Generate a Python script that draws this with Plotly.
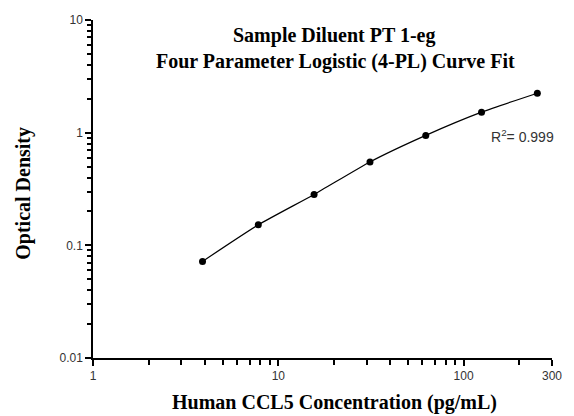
import numpy as np
import plotly.graph_objects as go

# Data
concentration = [3.9, 7.8, 15.6, 31.25, 62.5, 125, 250]
optical_density = [0.072, 0.152, 0.283, 0.55, 0.946, 1.52, 2.24]

x_major_ticks = [1, 10, 100, 300]
x_major_labels = ["1", "10", "100", "300"]
x_minor_ticks = [2, 3, 4, 5, 6, 7, 8, 9, 20, 30, 40, 50, 60, 70, 80, 90, 200]
y_major_ticks = [0.01, 0.1, 1, 10]
y_major_labels = ["0.01", "0.1", "1", "10"]
y_minor_ticks = [0.02, 0.03, 0.04, 0.05, 0.06, 0.07, 0.08, 0.09,
                 0.2, 0.3, 0.4, 0.5, 0.6, 0.7, 0.8, 0.9,
                 2, 3, 4, 5, 6, 7, 8, 9]

title_line1 = "Sample Diluent PT 1-eg"
title_line2 = "Four Parameter Logistic (4-PL) Curve Fit"
x_title = "Human CCL5 Concentration (pg/mL)"
y_title = "Optical Density"
r2_text = "R<sup>2</sup>= 0.999"

serif = "Liberation Serif, Times New Roman, serif"
sans = "Liberation Sans, Arial, sans-serif"

fig = go.Figure()
fig.add_trace(go.Scatter(
    x=concentration, y=optical_density, mode="lines+markers",
    line=dict(color="black", width=1.2, shape="spline", smoothing=0.6),
    marker=dict(color="black", size=7),
    showlegend=False, hoverinfo="x+y"))

W, H = 574, 416
L, R, T, B = 93, 17, 20, 58

axis_common = dict(
    type="log", showline=True, linecolor="black", linewidth=1.5,
    showgrid=False, zeroline=False, ticks="outside", ticklen=6,
    tickcolor="black", tickwidth=1.5,
    tickfont=dict(family=sans, size=12, color="#333333"),
)

fig.update_layout(
    width=W, height=H,
    margin=dict(l=L, r=R, t=T, b=B),
    paper_bgcolor="white", plot_bgcolor="white",
    xaxis=dict(axis_common, range=[0, np.log10(300)],
               tickvals=x_major_ticks, ticktext=x_major_labels,
               minor=dict(tickvals=x_minor_ticks, ticks="outside", ticklen=5,
                          tickcolor="black", tickwidth=1.5)),
    yaxis=dict(axis_common, range=[-2, 1],
               tickvals=y_major_ticks, ticktext=y_major_labels,
               minor=dict(tickvals=y_minor_ticks, ticks="outside", ticklen=4,
                          tickcolor="black", tickwidth=1.5)),
)

PW = W - L - R
PH = H - T - B

def px_x(px):
    return (px - L) / PW

def px_y(py):
    return (H - B - py) / PH

annots = [
    dict(text=f"<b>{title_line1}</b>", x=px_x(337), y=px_y(35),
         font=dict(family=serif, size=20, color="black")),
    dict(text=f"<b>{title_line2}</b>", x=px_x(338), y=px_y(62),
         font=dict(family=serif, size=20, color="black")),
    dict(text=f"<b>{x_title}</b>", x=px_x(337), y=px_y(403),
         font=dict(family=serif, size=20, color="black")),
    dict(text=f"<b>{y_title}</b>", x=px_x(22), y=px_y(193), textangle=-90,
         font=dict(family=serif, size=20, color="black")),
    dict(text=r2_text, x=px_x(527), y=px_y(136),
         font=dict(family=sans, size=14, color="#333333")),
]
for a in annots:
    fig.add_annotation(xref="paper", yref="paper", xanchor="center", yanchor="middle",
                       showarrow=False, **a)

fig.write_html("out.html", config={"displayModeBar": False},
               post_script="document.body.style.margin='0';")
